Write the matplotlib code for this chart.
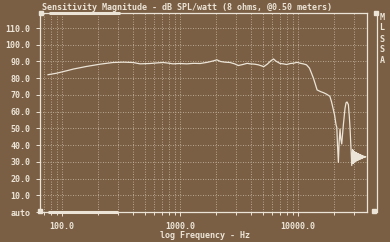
import matplotlib
matplotlib.use("Agg")
import matplotlib.pyplot as plt
from matplotlib.ticker import FixedLocator, NullFormatter

# =============================================================================
# Data (frequency in Hz, level in dB)
# =============================================================================
freq = [76, 90, 110, 125, 160, 210, 270, 330, 400, 458, 555, 650, 720, 800,
        870, 1000, 1140, 1300, 1480, 1700, 1900, 2050, 2200, 2400, 2650,
        2900, 3120, 3400, 3700, 3920, 4300, 4610, 4900, 5120, 5500, 5900,
        6200, 6500, 7040, 7500, 8000, 8600, 9200, 9800, 10500, 11200, 11800,
        12500, 13000, 13500, 14000, 14500, 15500, 16500, 17500, 18600, 19200,
        19800, 20400, 21000, 21300, 21600, 21960, 22300, 22700, 23000, 23450,
        24200, 25000, 25500, 26000, 26700, 27200, 27600, 28100, 28500]
level = [82.1, 83.0, 84.5, 85.5, 87.0, 88.4, 89.4, 89.6, 89.4, 88.6, 88.8,
         89.2, 89.4, 89.0, 88.6, 88.8, 88.6, 88.9, 88.8, 89.5, 90.3, 91.0,
         90.0, 89.6, 89.4, 88.6, 87.6, 88.2, 88.9, 88.6, 88.4, 88.0, 87.4,
         86.9, 88.5, 90.5, 91.5, 90.2, 88.8, 88.6, 88.2, 88.8, 89.0, 89.5,
         88.9, 88.5, 88.0, 86.0, 83.0, 80.0, 76.5, 73.0, 72.0, 71.3, 70.4,
         69.2, 66.0, 62.0, 58.0, 52.0, 50.6, 40.0, 29.7, 42.0, 49.6, 44.0,
         40.7, 52.0, 62.0, 65.3, 65.8, 64.2, 57.0, 49.6, 38.0, 27.8]

# queue bruitee au-dela de 28.5 kHz
noise_freq = [29000, 29240, 29480, 29720, 29960, 30200, 30440, 30680, 30920,
              31160, 31400, 31640, 31880, 32120, 32360, 32600, 32840, 33080,
              33320, 33560, 33800, 34040, 34280, 34520, 34760, 35000, 35240,
              35480, 35720, 35960, 36200, 36440, 36680, 36920, 37160, 37400]
noise_level = [37.3, 29.0, 36.5, 29.5, 36.0, 30.0, 35.8, 30.2, 35.5, 30.5,
               35.3, 30.8, 35.0, 31.0, 34.8, 31.2, 34.6, 31.4, 34.4, 31.6,
               34.2, 31.8, 34.0, 32.0, 33.8, 32.2, 33.6, 32.4, 33.4, 32.6,
               33.3, 32.7, 33.2, 32.8, 33.1, 33.0]

y_ticks = [0, 10, 20, 30, 40, 50, 60, 70, 80, 90, 100, 110]
y_labels = ["auto", "10.0", "20.0", "30.0", "40.0", "50.0", "60.0", "70.0",
            "80.0", "90.0", "100.0", "110.0"]
x_ticks = [100, 1000, 10000]
x_labels = ["100.0", "1000.0", "10000.0"]

# =============================================================================
# Style
# =============================================================================
bg = "#7a5f45"
fg = "#ece4d6"
grid_c = "#cdbfa8"
mono = "DejaVu Sans Mono"

fig = plt.figure(figsize=(3.9, 2.42), dpi=100, facecolor=bg)
ax = fig.add_axes([40 / 390, 1 - 212 / 242, 327 / 390, 199 / 242])
ax.set_facecolor(bg)

ax.plot(freq + noise_freq, level + noise_level, color=fg, lw=0.9)

ax.set_xscale("log")
ax.set_xlim(65, 38400)
ax.set_ylim(0, 119)

# grille verticale : 1..9 x decade
minor = [m * 10 ** e for e in (1, 2, 3, 4) for m in range(2, 10)]
minor = [f for f in minor if 65 < f < 38400]
ax.xaxis.set_major_locator(FixedLocator(x_ticks))
ax.xaxis.set_minor_locator(FixedLocator(minor))
ax.xaxis.set_minor_formatter(NullFormatter())
ax.set_xticklabels(x_labels)
ax.set_yticks(y_ticks)
ax.set_yticklabels(y_labels)

ax.grid(which="both", axis="x", color=grid_c, ls=(0, (1, 2)), lw=0.6)
ax.grid(which="major", axis="y", color=grid_c, ls=(0, (1, 2)), lw=0.6)

ax.tick_params(which="both", colors=fg, length=3, width=0.7, pad=4,
               labelsize=6)
ax.tick_params(which="minor", length=2)
for lab in ax.get_xticklabels() + ax.get_yticklabels():
    lab.set_family(mono)
    lab.set_weight("bold")

for side in ("left", "bottom", "top", "right"):
    ax.spines[side].set_color(fg)
    ax.spines[side].set_linewidth(0.9)

# barres epaisses (haut et bas) et coins
ax.plot([0.028, 0.245], [1, 1], color=fg, lw=2.2, transform=ax.transAxes,
        clip_on=False, solid_capstyle="butt")
ax.plot([0.025, 0.238], [0, 0], color=fg, lw=2.2, transform=ax.transAxes,
        clip_on=False, solid_capstyle="butt")
ax.plot([1.031, 1.031], [0, 1], color=fg, lw=0.9, transform=ax.transAxes,
        clip_on=False)
for cx, cy in [(0.004, 1.0), (0.0, 0.005), (1.026, 1.0), (1.022, 0.005)]:
    ax.plot(cx, cy, marker="s", ms=3, color=fg, transform=ax.transAxes,
            clip_on=False)

fig.text(187 / 390, 1 - 7 / 242,
         "Sensitivity Magnitude - dB SPL/watt (8 ohms, @0.50 meters)",
         ha="center", va="center", color=fg, fontsize=6, family=mono,
         weight="bold")
fig.text(205 / 390, 1 - 235 / 242, "log Frequency - Hz", ha="center",
         va="center", color=fg, fontsize=6, family=mono, weight="bold")
for i, ch in enumerate("MLSSA"):
    fig.text(382 / 390, 1 - (17 + 11 * i) / 242, ch, ha="center",
             va="center", color=fg, fontsize=6, family=mono, weight="bold")

fig.savefig("out.png", dpi=100, facecolor=bg)
